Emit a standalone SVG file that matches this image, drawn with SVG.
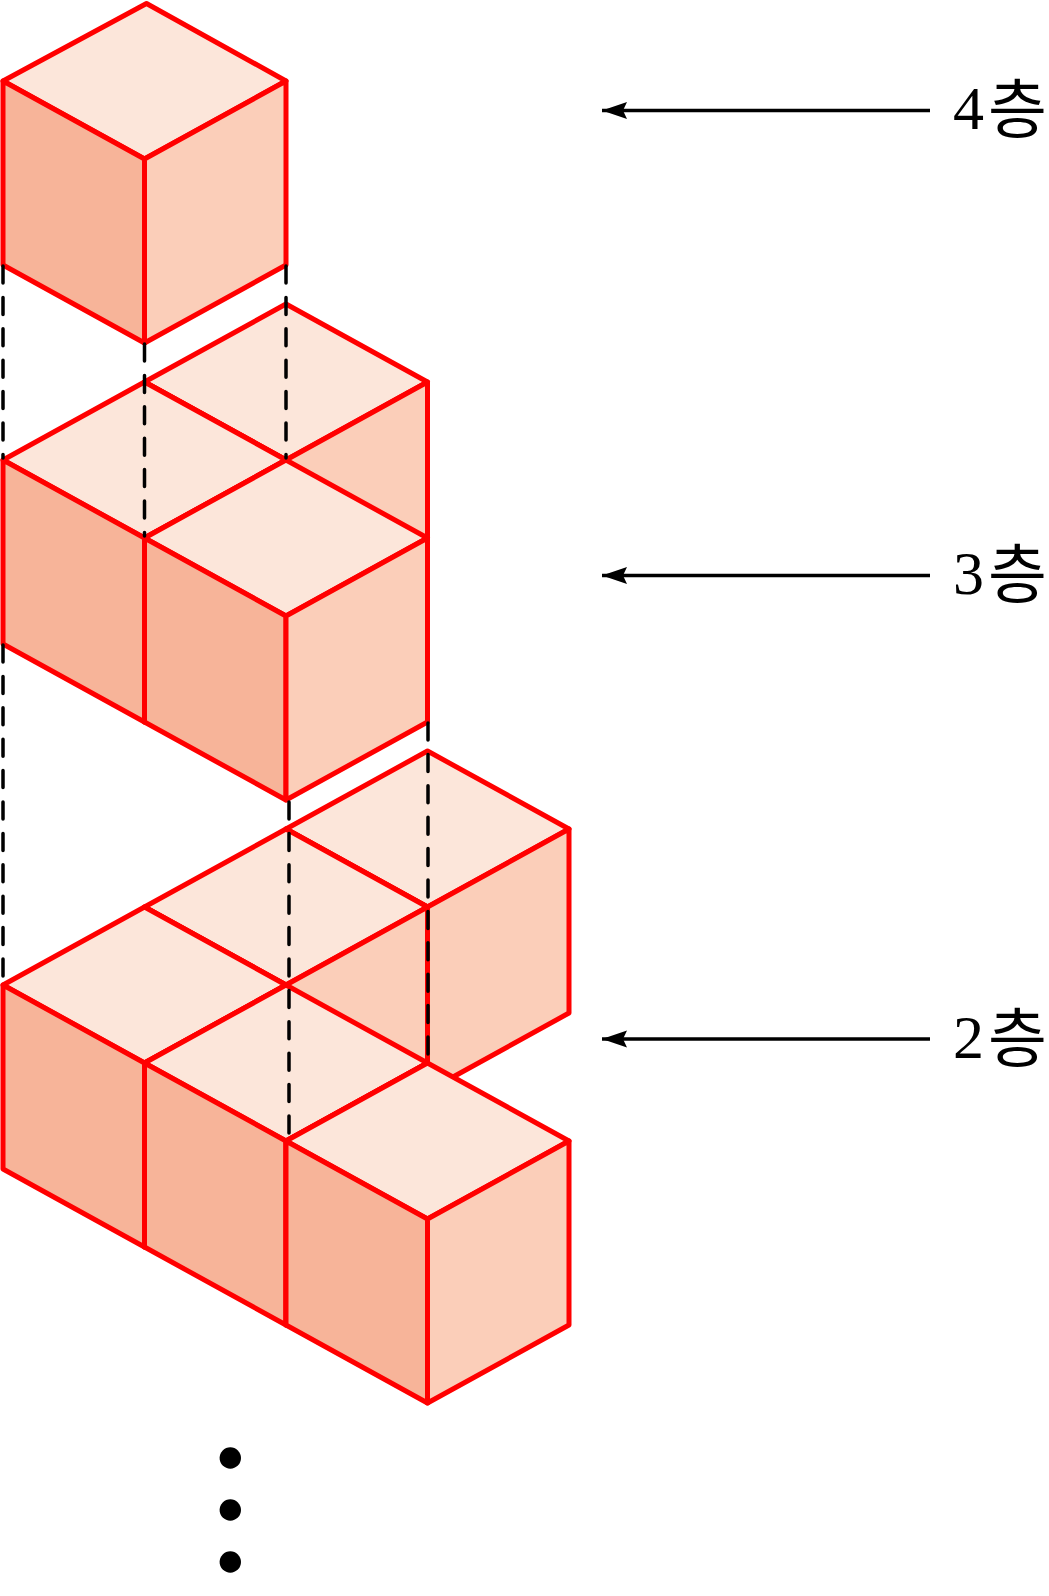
<svg xmlns="http://www.w3.org/2000/svg" width="1049" height="1596" viewBox="0 0 1049 1596">
<style>
.t{fill:#fce6da}.r{fill:#fbceb9}.l{fill:#f7b499}
.e{stroke:#f00;stroke-width:5;stroke-linejoin:round;stroke-linecap:round}
.d{fill:none;stroke:#000;stroke-width:3.500;stroke-dasharray:17 14.400;stroke-linecap:round}
.a{fill:none;stroke:#000;stroke-width:3.500}
.n{font-family:"Liberation Serif",serif;font-size:62px;fill:#000}
.k{font-family:"Noto Sans CJK KR",sans-serif;font-size:64px;fill:#000}
</style>
<defs>
<g id="cube">
<polygon class="t e" points="0,0 141.5,78 0,156 -141.5,78"/>
<polygon class="l e" points="-141.5,78 0,156 0,340 -141.5,262"/>
<polygon class="r e" points="141.5,78 0,156 0,340 141.5,262"/>
</g>
<marker id="ah" markerUnits="userSpaceOnUse" markerWidth="26" markerHeight="20" refX="1" refY="9" orient="auto">
<path d="M1 9 L26 0.500 L22 9 L26 17.500 Z" fill="#000"/>
</marker>
</defs>
<g id="layer2">
<use id="c2-back" href="#cube" x="427.500" y="751"/>
<use id="c2-mid" href="#cube" x="286" y="829"/>
<use id="c2-left" href="#cube" x="144.500" y="907"/>
<use id="c2-center" href="#cube" x="286" y="985"/>
<use id="c2-front" href="#cube" x="427.500" y="1063"/>
</g>
<g id="layer3">
<use id="c3-back" href="#cube" x="286" y="304"/>
<use id="c3-left" href="#cube" x="144.500" y="382"/>
<use id="c3-front" href="#cube" x="286" y="460"/>
</g>
<g id="layer4">
<polygon class="t e" points="146.500,3.500 286,81 144.500,159 3,81"/>
<polygon class="l e" points="3,81 144.500,159 144.500,343 3,265"/>
<polygon class="r e" points="286,81 144.500,159 144.500,343 286,265"/>
</g>
<g id="connectors">
<path class="d" d="M3 266V458"/>
<path class="d" d="M3 645V984"/>
<path class="d" d="M144.500 344V536"/>
<path class="d" d="M286 266V458"/>
<path class="d" d="M289 802V1139"/>
<path class="d" d="M428 723V1061"/>
<path class="a" marker-start="url(#ah)" d="M602 110.500H930"/>
<path class="a" marker-start="url(#ah)" d="M602 575.500H930"/>
<path class="a" marker-start="url(#ah)" d="M602 1039H930"/>
</g>
<g id="label4"><text class="n" x="953" y="129">4</text><text class="k" x="988" y="132">층</text></g>
<g id="label3"><text class="n" x="953" y="594">3</text><text class="k" x="988" y="597">층</text></g>
<g id="label2"><text class="n" x="953" y="1058">2</text><text class="k" x="988" y="1061">층</text></g>
<g id="dots">
<circle cx="230.300" cy="1458" r="10.700"/>
<circle cx="230.300" cy="1510" r="10.700"/>
<circle cx="230.300" cy="1562" r="10.700"/>
</g>
</svg>
